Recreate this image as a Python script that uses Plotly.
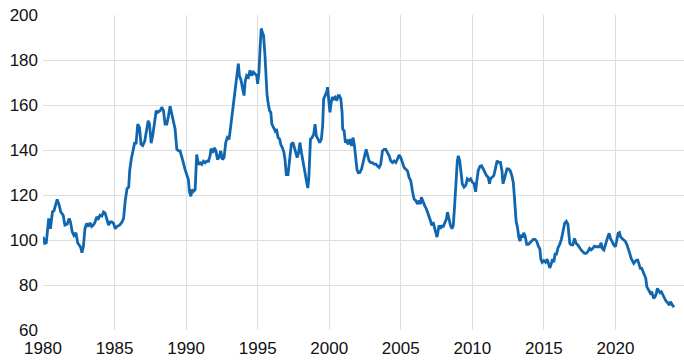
import plotly.graph_objects as go

# Decimal year / index value pairs
years = [
    1980.0, 1980.12, 1980.23, 1980.4, 1980.52, 1980.66, 1980.77, 1980.85, 1980.99, 1981.13,
    1981.24, 1981.41, 1981.53, 1981.69, 1981.83, 1981.92, 1982.04, 1982.16, 1982.3, 1982.42,
    1982.54, 1982.63, 1982.72, 1982.82, 1982.93, 1983.05, 1983.17, 1983.29, 1983.4, 1983.52,
    1983.64, 1983.76, 1983.87, 1983.99, 1984.11, 1984.23, 1984.34, 1984.46, 1984.58, 1984.7,
    1984.81, 1984.93, 1985.05, 1985.16, 1985.35, 1985.52, 1985.63, 1985.75, 1985.87, 1985.99,
    1986.06, 1986.17, 1986.29, 1986.41, 1986.5, 1986.62, 1986.74, 1986.85, 1986.97, 1987.11,
    1987.23, 1987.35, 1987.44, 1987.56, 1987.68, 1987.79, 1987.91, 1988.02, 1988.19, 1988.3,
    1988.42, 1988.53, 1988.65, 1988.77, 1988.88, 1989.0, 1989.12, 1989.23, 1989.35, 1989.47,
    1989.58, 1989.7, 1989.81, 1989.93, 1990.05, 1990.16, 1990.23, 1990.33, 1990.42, 1990.51,
    1990.63, 1990.74, 1990.86, 1990.98, 1991.09, 1991.21, 1991.33, 1991.44, 1991.56, 1991.67,
    1991.74, 1991.86, 1991.98, 1992.09, 1992.19, 1992.3, 1992.42, 1992.53, 1992.65, 1992.77,
    1992.88, 1993.0, 1993.12, 1993.23, 1993.35, 1993.47, 1993.58, 1993.65, 1993.72, 1993.84,
    1993.95, 1994.05, 1994.12, 1994.23, 1994.35, 1994.47, 1994.58, 1994.7, 1994.81, 1994.93,
    1995.0, 1995.09, 1995.18, 1995.25, 1995.35, 1995.41, 1995.51, 1995.58, 1995.65, 1995.74,
    1995.83, 1995.92, 1995.99, 1996.11, 1996.22, 1996.31, 1996.43, 1996.54, 1996.61, 1996.73,
    1996.84, 1996.91, 1997.0, 1997.12, 1997.24, 1997.35, 1997.47, 1997.58, 1997.67, 1997.76,
    1997.86, 1997.95, 1998.06, 1998.18, 1998.29, 1998.39, 1998.5, 1998.57, 1998.69, 1998.8,
    1998.92, 1999.01, 1999.1, 1999.22, 1999.33, 1999.45, 1999.54, 1999.61, 1999.72, 1999.82,
    1999.88, 1999.95, 2000.05, 2000.12, 2000.21, 2000.32, 2000.41, 2000.53, 2000.62, 2000.71,
    2000.81, 2000.9, 2000.94, 2001.04, 2001.13, 2001.24, 2001.34, 2001.45, 2001.57, 2001.66,
    2001.75, 2001.84, 2001.94, 2002.03, 2002.14, 2002.26, 2002.37, 2002.49, 2002.58, 2002.67,
    2002.79, 2002.91, 2003.02, 2003.14, 2003.26, 2003.37, 2003.49, 2003.6, 2003.72, 2003.84,
    2003.95, 2004.07, 2004.19, 2004.3, 2004.42, 2004.53, 2004.65, 2004.77, 2004.88, 2005.0,
    2005.12, 2005.23, 2005.35, 2005.47, 2005.58, 2005.7, 2005.81, 2005.93, 2006.05, 2006.16,
    2006.28, 2006.37, 2006.44, 2006.56, 2006.67, 2006.79, 2006.88, 2006.98, 2007.07, 2007.16,
    2007.26, 2007.35, 2007.44, 2007.53, 2007.6, 2007.67, 2007.77, 2007.86, 2007.95, 2008.07,
    2008.19, 2008.26, 2008.35, 2008.47, 2008.58, 2008.67, 2008.77, 2008.86, 2008.95, 2009.02,
    2009.12, 2009.21, 2009.3, 2009.42, 2009.54, 2009.65, 2009.77, 2009.88, 2010.0, 2010.12,
    2010.23, 2010.3, 2010.41, 2010.53, 2010.65, 2010.76, 2010.88, 2010.99, 2011.11, 2011.2,
    2011.27, 2011.38, 2011.5, 2011.61, 2011.73, 2011.84, 2011.96, 2012.07, 2012.14, 2012.24,
    2012.33, 2012.42, 2012.53, 2012.65, 2012.76, 2012.86, 2012.93, 2013.0, 2013.06, 2013.16,
    2013.25, 2013.34, 2013.41, 2013.5, 2013.59, 2013.69, 2013.8, 2013.92, 2014.03, 2014.15,
    2014.26, 2014.38, 2014.49, 2014.61, 2014.72, 2014.79, 2014.88, 2015.0, 2015.12, 2015.23,
    2015.35, 2015.41, 2015.51, 2015.6, 2015.69, 2015.78, 2015.88, 2015.99, 2016.11, 2016.22,
    2016.34, 2016.45, 2016.57, 2016.68, 2016.75, 2016.81, 2016.91, 2017.02, 2017.14, 2017.26,
    2017.37, 2017.49, 2017.6, 2017.72, 2017.84, 2017.95, 2018.07, 2018.19, 2018.3, 2018.42,
    2018.53, 2018.65, 2018.77, 2018.88, 2019.0, 2019.07, 2019.19, 2019.28, 2019.4, 2019.47,
    2019.56, 2019.65, 2019.77, 2019.88, 2020.0, 2020.09, 2020.19, 2020.28, 2020.35, 2020.47,
    2020.58, 2020.7, 2020.81, 2020.91, 2021.0, 2021.09, 2021.19, 2021.28, 2021.37, 2021.47,
    2021.56, 2021.65, 2021.74, 2021.84, 2021.93, 2022.02, 2022.12, 2022.19, 2022.26, 2022.35,
    2022.44, 2022.53, 2022.6, 2022.67, 2022.77, 2022.86, 2022.93, 2023.02, 2023.12, 2023.21,
    2023.3, 2023.4, 2023.49, 2023.58, 2023.67, 2023.77, 2023.84, 2023.93, 2024.02, 2024.09,
]

index_values = [
    101.5, 98.5, 98.8, 109.6, 105.0, 112.5, 113.0, 114.7, 118.0, 115.5,
    112.5, 111.0, 106.6, 107.0, 109.6, 108.0, 103.7, 102.0, 103.2, 98.8,
    97.4, 96.8, 94.4, 97.0, 105.0, 107.4, 106.0, 107.6, 106.0, 106.6,
    108.0, 110.3, 109.5, 111.0, 110.6, 112.5, 112.0, 108.8, 106.6, 108.0,
    108.0, 107.4, 105.0, 106.0, 106.6, 108.0, 109.6, 117.6, 122.8, 123.5,
    131.0, 136.0, 140.4, 143.4, 142.6, 151.5, 150.0, 142.6, 142.0, 144.0,
    148.5, 153.0, 151.5, 143.0, 147.0, 151.5, 157.5, 156.7, 157.5, 159.0,
    157.5, 151.5, 151.5, 155.2, 159.4, 156.0, 151.5, 149.3, 140.3, 139.6,
    139.6, 137.3, 134.3, 131.3, 129.0, 126.9, 121.6, 119.4, 122.4, 121.6,
    122.4, 138.0, 133.6, 134.3, 133.6, 135.0, 134.3, 135.0, 135.0, 137.3,
    140.6, 138.8, 141.0, 139.6, 135.8, 136.6, 139.6, 135.8, 136.6, 143.3,
    145.5, 144.8, 150.7, 156.7, 163.4, 169.4, 174.6, 178.4, 173.1, 170.9,
    167.2, 164.2, 170.1, 173.1, 172.4, 175.4, 173.1, 174.6, 173.9, 173.1,
    169.4, 174.6, 186.6, 194.0, 191.8, 191.0, 182.1, 173.1, 164.9, 160.4,
    157.5, 156.7, 151.5, 150.0, 148.5, 149.3, 145.5, 144.8, 142.5, 141.0,
    138.8, 135.8, 129.1, 129.1, 135.8, 142.5, 143.3, 141.0, 139.6, 136.6,
    138.8, 143.3, 138.8, 133.6, 130.6, 126.9, 123.1, 126.9, 144.8, 145.5,
    147.0, 151.5, 146.3, 144.8, 143.3, 144.8, 150.7, 162.7, 164.2, 165.7,
    167.9, 164.2, 156.7, 160.4, 163.4, 162.7, 163.4, 161.9, 164.2, 164.2,
    162.7, 156.7, 149.3, 148.5, 143.3, 144.0, 142.5, 144.8, 141.8, 145.5,
    142.5, 137.3, 131.3, 129.9, 130.0, 131.5, 134.4, 136.6, 140.3, 138.0,
    135.1, 134.4, 134.4, 133.7, 133.7, 132.9, 132.2, 133.7, 139.6, 140.3,
    140.3, 138.8, 137.4, 135.1, 134.4, 135.1, 134.4, 135.9, 137.8, 136.6,
    133.7, 132.2, 131.5, 130.7, 127.8, 126.3, 121.9, 118.2, 117.5, 116.0,
    117.5, 116.0, 119.0, 116.8, 115.3, 113.8, 112.4, 110.1, 108.7, 106.5,
    108.0, 105.7, 103.5, 101.3, 103.5, 106.5, 105.0, 106.5, 105.7, 108.0,
    109.4, 112.4, 109.4, 106.5, 105.0, 106.5, 116.0, 127.8, 135.1, 137.4,
    135.1, 130.0, 124.9, 123.5, 124.3, 127.2, 126.5, 127.2, 125.7, 125.0,
    121.4, 125.7, 130.8, 132.7, 133.0, 131.6, 130.1, 128.6, 127.9, 125.0,
    127.2, 127.9, 128.6, 131.6, 135.2, 134.5, 134.5, 130.8, 125.0, 127.2,
    130.1, 131.6, 131.6, 130.8, 128.6, 125.7, 119.9, 114.1, 108.3, 105.4,
    101.0, 99.5, 102.4, 101.0, 103.2, 101.7, 98.1, 98.1, 98.8, 99.5,
    100.3, 100.3, 99.5, 97.4, 95.9, 91.5, 90.1, 90.8, 90.1, 91.5,
    89.3, 87.6, 89.3, 91.5, 90.1, 93.7, 93.7, 96.6, 98.1, 100.3,
    103.9, 107.5, 108.3, 107.0, 102.4, 98.5, 97.8, 97.8, 100.7, 98.5,
    97.8, 96.3, 95.6, 94.8, 94.1, 94.1, 94.8, 96.3, 95.6, 96.3,
    97.3, 97.0, 97.0, 97.0, 98.8, 96.3, 95.6, 97.8, 100.0, 101.5,
    103.0, 100.7, 99.3, 97.8, 97.0, 100.7, 103.0, 103.3, 101.5, 100.7,
    100.0, 99.3, 97.8, 96.3, 94.1, 91.9, 90.4, 89.6, 90.4, 91.1,
    91.1, 88.9, 87.4, 87.4, 85.9, 84.4, 83.0, 79.3, 78.5, 77.8,
    76.3, 77.0, 75.6, 74.1, 74.8, 76.3, 78.5, 77.8, 76.6, 77.0,
    75.6, 74.1, 73.3, 72.6, 71.9, 71.1, 72.6, 71.9, 70.7, 70.1,
]

x_ticks = [1980, 1985, 1990, 1995, 2000, 2005, 2010, 2015, 2020]
y_ticks = [60, 80, 100, 120, 140, 160, 180, 200]
x_grid = x_ticks[1:]
y_grid = y_ticks[1:-1]

x_range = [1980, 2024.79]
y_range = [60, 200]

fig = go.Figure(
    go.Scatter(
        x=years,
        y=index_values,
        mode="lines",
        line=dict(color="#1166b0", width=2.8),
        hoverinfo="x+y",
    )
)
# empty helper trace on overlay axes so their grid lines are drawn
fig.add_trace(
    go.Scatter(x=[], y=[], xaxis="x2", yaxis="y2", showlegend=False, hoverinfo="skip")
)

grid = "#dedede"
font = dict(family="Liberation Sans, Arial, sans-serif", size=17, color="#111111")

fig.update_layout(
    width=684,
    height=360,
    margin=dict(l=43, r=0, t=15, b=30),
    paper_bgcolor="white",
    plot_bgcolor="white",
    showlegend=False,
    font=font,
    xaxis=dict(
        range=x_range,
        tickvals=x_ticks,
        ticktext=[str(t) for t in x_ticks],
        showgrid=False,
        zeroline=False,
        showline=False,
        ticks="",
        tickfont=font,
        automargin=False,
        ticklabelstandoff=6,
    ),
    yaxis=dict(
        range=y_range,
        tickvals=y_ticks,
        ticktext=[str(t) for t in y_ticks],
        showgrid=False,
        zeroline=False,
        showline=False,
        ticks="",
        tickfont=font,
        automargin=False,
        ticklabelstandoff=4,
    ),
    xaxis2=dict(
        range=x_range,
        overlaying="x",
        tickvals=x_grid,
        showticklabels=False,
        showgrid=True,
        gridcolor=grid,
        gridwidth=1,
        zeroline=False,
        ticks="",
    ),
    yaxis2=dict(
        range=y_range,
        overlaying="y",
        tickvals=y_grid,
        showticklabels=False,
        showgrid=True,
        gridcolor=grid,
        gridwidth=1,
        zeroline=False,
        ticks="",
    ),
)

fig.write_html(
    "out.html",
    config={"displayModeBar": False},
    post_script="document.body.style.margin='0px';document.body.style.overflow='hidden';",
)
